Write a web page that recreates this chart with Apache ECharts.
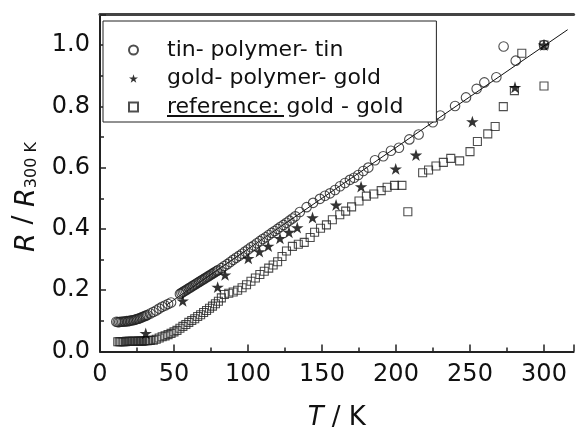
<!DOCTYPE html>
<html>
<head>
<meta charset="utf-8">
<script src="https://cdn.jsdelivr.net/npm/echarts@6.0.0/dist/echarts.min.js"></script>
<style>
html,body{margin:0;padding:0;background:#fff;}
#chart{width:577px;height:427px;}
</style>
</head>
<body>
<div id="chart"></div>
<script>
// ---- data ----
const seriesNames = ['tin- polymer- tin', 'gold- polymer- gold', 'reference: gold - gold'];

const tinT = [11,12,13,14,15,16,17,18,19,20,21,22,23,24,25,26,27,28,29,30,31,32,34,36,38,40,42,44,46,48,
  54,55,56,57,58,59,60,61,62,63,64,65,66,67,68,69,70,71,72,73,74,75,76,77,78,79,80,82,84,86,88,90,92,94,96,98,
  100,102,104,106,108,110,112,114,116,118,120,122,124,126,128,130,132,135,139.6,144,148.6,152,155.4,158.8,162.2,
  165.5,168.9,171.7,174.5,177.9,181.3,185.8,191.4,196.6,202,209,215.3,224.9,229.9,239.9,247.3,254.5,259.7,267.8,
  272.7,280.9,300];
const tinR = [0.097,0.096,0.096,0.097,0.097,0.098,0.098,0.099,0.099,0.100,0.101,0.102,0.103,0.104,0.106,0.107,0.109,0.111,0.113,0.115,0.117,0.119,0.124,0.129,0.134,0.140,0.146,0.150,0.155,0.160,
  0.188,0.191,0.194,0.197,0.200,0.203,0.206,0.209,0.212,0.215,0.218,0.221,0.224,0.227,0.230,0.233,0.236,0.239,0.242,0.245,0.248,0.251,0.254,0.257,0.260,0.263,0.266,0.272,0.279,0.285,0.292,0.299,0.306,0.312,0.319,0.326,
  0.333,0.340,0.346,0.353,0.360,0.367,0.373,0.380,0.387,0.393,0.400,0.407,0.413,0.420,0.427,0.434,0.441,0.455,0.471,0.485,0.498,0.508,0.516,0.527,0.539,
  0.550,0.560,0.567,0.576,0.589,0.600,0.624,0.637,0.655,0.665,0.692,0.708,0.748,0.770,0.801,0.829,0.857,0.878,0.895,
  0.995,0.949,1.000];

const goldT = [30.9,55.9,79.5,84.5,100.2,107.7,113.7,121.6,127.7,133.3,143.6,159.5,176.4,199.8,213.5,251.6,280.4,300];
const goldR = [0.059,0.165,0.210,0.250,0.304,0.326,0.344,0.369,0.389,0.404,0.437,0.478,0.538,0.596,0.641,0.750,0.862,1.000];

const refT = [12,13,14,15,16,17,18,19,20,21,22,23,24,25,26,27,28,29,30,31,32,33,34,36,38,40,42,44,46,48,50,52,54,56,58,60,
  62,64,66,68,70,72,74,76,78,80,82,84,87,90,93,96,99,102,105,108,111,114,117,120,123,126,130,134,138,142,145,149,153,157,
  162,166,170,175,180,185,190,194,199,204,208,218,222,227,232,237,243,250,255,262,267,272.5,280,285,300,300];
const refR = [0.032,0.032,0.032,0.032,0.032,0.032,0.033,0.033,0.033,0.033,0.033,0.033,0.033,0.033,0.034,0.034,0.034,0.034,0.035,0.035,0.035,0.036,0.036,0.037,0.040,0.044,0.048,0.051,0.055,0.059,0.064,0.069,0.076,0.082,0.088,0.095,
  0.101,0.107,0.114,0.120,0.127,0.134,0.141,0.148,0.156,0.164,0.175,0.186,0.190,0.194,0.200,0.208,0.218,0.229,0.240,0.251,0.262,0.272,0.282,0.293,0.310,0.328,0.343,0.350,0.356,0.372,0.389,0.402,0.413,0.430,
  0.446,0.458,0.472,0.491,0.507,0.514,0.525,0.536,0.542,0.542,0.456,0.583,0.592,0.605,0.617,0.630,0.622,0.652,0.685,0.710,0.734,0.799,0.851,0.973,1.000,0.866];

const fitT = [45, 316];
const fitR = [0.152, 1.050];

const xTicks = [0, 50, 100, 150, 200, 250, 300];
const yTicks = [0.0, 0.2, 0.4, 0.6, 0.8, 1.0];

// ---- build ----
const zip = (a, b) => a.map((v, i) => [v, b[i]]);
const FONT = 'DejaVu Sans';

const chart = echarts.init(document.getElementById('chart'), null, {renderer: 'canvas'});
chart.setOption({
  animation: false,
  backgroundColor: '#fff',
  grid: {left: 100, right: 3.4, top: 14.35, bottom: 75.5, containLabel: false, outerBoundsMode: 'none'},
  xAxis: [{
    type: 'value', min: 0, max: 320, interval: 50,
    axisLine: {show: true, onZero: false, lineStyle: {color: '#222', width: 2}},
    axisTick: {show: true, inside: true, length: 7, lineStyle: {color: '#222', width: 1.5}},
    minorTick: {show: true, splitNumber: 2, length: 4, lineStyle: {color: '#222', width: 1.5}},
    splitLine: {show: false},
    axisLabel: {
      margin: 11, color: '#111', fontFamily: FONT, fontSize: 24,
      formatter: v => xTicks.includes(v) ? String(v) : ''
    },
    name: '{i|T} / K', nameLocation: 'middle', nameGap: 54,
    nameTextStyle: {fontFamily: FONT, fontSize: 26, color: '#111',
      rich: {i: {fontStyle: 'italic', fontFamily: FONT, fontSize: 26, color: '#111'}}}
  }, {
    type: 'value', position: 'top', min: 0, max: 320,
    axisLine: {show: true, onZero: false, lineStyle: {color: '#444', width: 3}},
    axisTick: {show: false}, axisLabel: {show: false}, splitLine: {show: false}
  }],
  yAxis: {
    type: 'value', min: 0, max: 1.1, interval: 0.2,
    axisLine: {show: true, onZero: false, lineStyle: {color: '#222', width: 2}},
    axisTick: {show: true, inside: true, length: 6, lineStyle: {color: '#222', width: 1.5}},
    minorTick: {show: true, splitNumber: 2, length: 4, lineStyle: {color: '#222', width: 1.5}},
    splitLine: {show: false},
    axisLabel: {
      margin: 10, color: '#111', fontFamily: FONT, fontSize: 24,
      formatter: v => yTicks.some(t => Math.abs(t - v) < 1e-6) ? v.toFixed(1) : ''
    }
  },
  legend: {
    orient: 'vertical', left: 103, top: 21,
    data: seriesNames,
    backgroundColor: '#fff',
    borderColor: '#222', borderWidth: 1,
    padding: [17, 33, 3, 25],
    itemWidth: 9, itemHeight: 9, itemGap: 4.5,
    selectedMode: false,
    textStyle: {
      fontFamily: FONT, fontSize: 22, color: '#111', lineHeight: 24, padding: [0, 0, 0, 24],
      rich: {u: {fontFamily: FONT, fontSize: 22, color: '#111', lineHeight: 24}}
    },
    formatter: name => name === seriesNames[2] ? '{u|reference:} gold - gold' : name
  },
  graphic: [
    {
      type: 'text', x: 24, y: 197, rotation: Math.PI / 2, z: 10,
      style: {
        text: '{i|R} / {i|R}{s|300 K}',
        align: 'center', verticalAlign: 'middle',
        rich: {
          i: {fontFamily: FONT, fontStyle: 'italic', fontSize: 27, fill: '#111', lineHeight: 32, verticalAlign: 'bottom'},
          s: {fontFamily: FONT, fontSize: 16, fill: '#111', lineHeight: 32, verticalAlign: 'bottom'}
        },
        fontFamily: FONT, fontSize: 27, fill: '#111'
      }
    },
    {
      type: 'line', z: 100,
      shape: {x1: 167, y1: 116, x2: 284, y2: 116},
      style: {stroke: '#111', lineWidth: 2}
    }
  ],
  series: [
    {
      name: 'fit', type: 'line', data: zip(fitT, fitR), showSymbol: false, symbol: 'none',
      lineStyle: {color: '#111', width: 1}, z: 1, silent: true
    },
    {
      name: seriesNames[0], type: 'scatter', data: zip(tinT, tinR),
      symbol: 'circle', symbolSize: 9.5,
      itemStyle: {color: 'rgba(255,255,255,0)', borderColor: '#222', borderWidth: 1.1}, z: 3
    },
    {
      name: seriesNames[1], type: 'scatter', data: zip(goldT, goldR),
      symbol: 'path://M50,0 L61.2,34.5 L97.6,34.5 L68.2,55.9 L79.4,90.5 L50,69.1 L20.6,90.5 L31.8,55.9 L2.4,34.5 L38.8,34.5 Z',
      symbolSize: 12.5, symbolKeepAspect: true,
      itemStyle: {color: '#000'}, z: 4
    },
    {
      name: seriesNames[2], type: 'scatter', data: zip(refT, refR),
      symbol: 'rect', symbolSize: 8,
      itemStyle: {color: 'rgba(255,255,255,0)', borderColor: '#222', borderWidth: 1.1}, z: 3
    }
  ]
});
</script>
</body>
</html>
